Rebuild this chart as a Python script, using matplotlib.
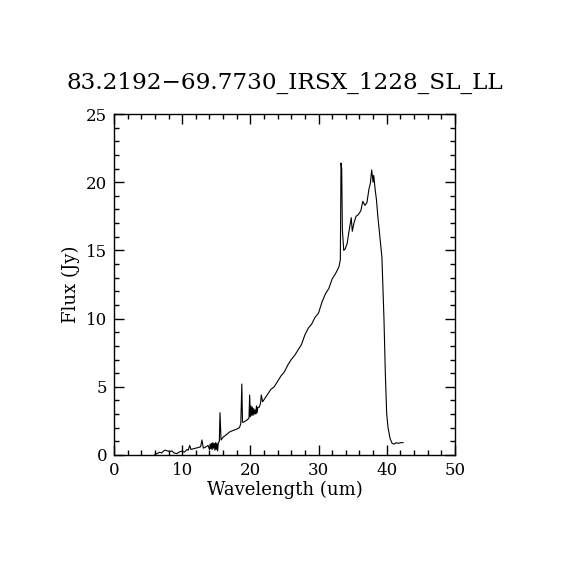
import numpy as np
import matplotlib
matplotlib.use('Agg')
import matplotlib.pyplot as plt
from matplotlib.ticker import MultipleLocator

title = '83.2192\u221269.7730_IRSX_1228_SL_LL'

# wavelength (um) and flux (Jy) (rows line up)
wave = [6.0, 6.3, 6.7, 7.0, 7.3, 7.5, 7.8, 8.2, 8.5, 8.8, 9.2, 9.5,
        10.0, 10.3, 10.7, 10.9, 11.1, 11.3, 11.6, 12.0, 12.4, 12.7, 12.9,
        13.1, 13.5, 13.8, 14.0, 14.1, 14.2, 14.3, 14.4, 14.5, 14.6, 14.7, 14.8, 14.9, 15.0, 15.1, 15.2, 15.3,
        15.45, 15.55, 15.7, 16.0, 16.5, 17.0, 17.5, 18.0, 18.4, 18.6, 18.75, 18.85, 19.0, 19.3, 19.6, 19.8,
        19.9, 20.0, 20.1, 20.2, 20.3, 20.4, 20.5, 20.6, 20.7, 20.8, 20.9, 21.0, 21.1,
        21.3, 21.5, 21.6, 21.8, 22.2, 22.6, 23.0, 23.5, 24.0,
        24.5, 25.0, 25.5, 26.0, 26.5, 27.0, 27.5, 28.0, 28.5, 29.0, 29.5, 30.0, 30.5, 31.0, 31.5, 32.0, 32.5, 33.0, 33.2,
        33.3, 33.4, 33.5, 33.7, 33.9, 34.2, 34.5, 34.8, 34.95, 35.2, 35.5, 35.8, 36.2, 36.5, 36.8, 37.1, 37.4, 37.6, 37.8, 38.0, 38.1, 38.3, 38.5,
        38.7, 39.0, 39.3, 39.6, 39.8, 40.0, 40.2, 40.5, 40.8, 41.1, 41.4, 41.7, 42.0, 42.4]
flux = [0.05, 0.1, 0.2, 0.15, 0.3, 0.35, 0.3, 0.25, 0.3, 0.15, 0.1, 0.2,
        0.3, 0.2, 0.4, 0.35, 0.7, 0.4, 0.45, 0.5, 0.55, 0.6, 1.1,
        0.5, 0.6, 0.7, 0.4, 0.8, 0.45, 0.85, 0.4, 0.9, 0.5, 0.85, 0.35, 0.9, 0.4, 0.85, 0.3, 0.9,
        1.0, 3.1, 1.1, 1.3, 1.5, 1.7, 1.8, 1.9, 2.0, 2.3, 5.2, 2.4, 2.4, 2.5, 2.6, 2.7,
        4.4, 2.8, 3.6, 2.9, 3.5, 2.9, 3.4, 3.0, 3.3, 3.0, 3.6, 3.1, 3.5,
        3.5, 3.8, 4.4, 3.9, 4.2, 4.5, 4.8, 5.0, 5.4,
        5.8, 6.1, 6.6, 7.0, 7.3, 7.7, 8.1, 8.8, 9.3, 9.6, 10.1, 10.4, 11.2, 11.8, 12.2, 12.9, 13.3, 13.8, 14.3,
        21.4, 21.0, 16.5, 15.0, 15.1, 15.5, 16.5, 17.4, 16.4, 17.0, 17.5, 17.6, 17.9, 18.6, 18.3, 18.5, 19.5, 19.9, 20.9, 20.0, 20.5, 19.5, 18.7,
        17.5, 16.0, 14.5, 10.0, 6.0, 3.0, 2.0, 1.2, 0.85, 0.8, 0.9, 0.85, 0.9, 0.9]

plt.rcParams['font.family'] = ['DejaVu Serif']

fig = plt.figure(figsize=(5.7, 5.7), dpi=100)
ax = fig.add_axes([0.2, 0.2018, 0.598, 0.5982])
ax.plot(wave, flux, color='black', linewidth=0.8)

ax.set_xlim(0, 50)
ax.set_ylim(0, 25)
ax.xaxis.set_major_locator(MultipleLocator(10))
ax.xaxis.set_minor_locator(MultipleLocator(2))
ax.yaxis.set_major_locator(MultipleLocator(5))
ax.yaxis.set_minor_locator(MultipleLocator(1))
ax.tick_params(which='both', direction='in', top=True, right=True,
               labelsize=12, width=1)
ax.tick_params(which='major', length=7, pad=5)
ax.tick_params(which='minor', length=3.5)
for s in ax.spines.values():
    s.set_linewidth(1)

ax.set_xlabel('Wavelength (um)', fontsize=13, labelpad=1)
ax.set_ylabel('Flux (Jy)', fontsize=13, labelpad=4)
ax.set_title(title, fontsize=16.7, pad=18)

fig.savefig('out.png', dpi=100, facecolor='white')
